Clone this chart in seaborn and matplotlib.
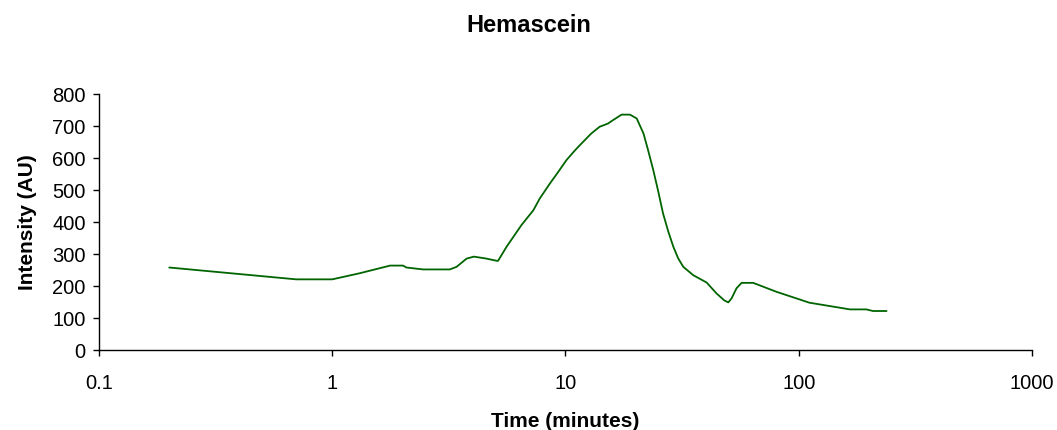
import pandas as pd
import matplotlib.pyplot as plt
import matplotlib.ticker as mticker
import seaborn as sns

# values
time_min = [0.20, 0.70, 1.00, 1.31, 1.77, 2.01, 2.08, 2.45, 3.19, 3.41, 3.77,
            4.05, 4.57, 5.07, 5.14, 5.59, 6.48, 7.28, 7.76, 8.58, 9.31, 10.1,
            11.0, 11.9, 12.9, 14.0, 15.2, 16.0, 17.4, 18.9, 20.2, 21.6, 22.6,
            23.8, 25.0, 26.2, 27.6, 29.0, 30.4, 32.0, 35.3, 40.3, 44.4, 48.0,
            49.9, 51.5, 54.1, 56.9, 63.8, 80.3, 101, 111, 166, 195, 208, 238]
intensity = [258, 221, 221, 240, 264, 264, 258, 252, 252, 260, 286,
             292, 286, 279, 279, 323, 391, 437, 474, 521, 557, 594,
             625, 651, 677, 698, 708, 719, 736, 736, 724, 677, 625,
             562, 495, 427, 370, 323, 287, 260, 234, 211, 177, 155,
             149, 161, 193, 210, 210, 182, 158, 148, 127, 127, 122, 122]
x_ticks = [0.1, 1, 10, 100, 1000]
y_ticks = list(range(0, 801, 100))

df = pd.DataFrame({"Time": time_min, "Intensity": intensity})

sns.set_style("ticks")
plt.rcParams['font.family'] = ['Liberation Sans', 'DejaVu Sans']
plt.rcParams['text.color'] = 'black'
plt.rcParams['axes.labelcolor'] = 'black'

fig = plt.figure(figsize=(10.57, 4.30), dpi=100)
ax = fig.add_axes([0.0937, 0.186, 0.8826, 0.595])

sns.lineplot(data=df, x="Time", y="Intensity", ax=ax, color="#006400",
             linewidth=1.3, sort=False)

ax.set_xscale("log")
ax.set_xlim(0.1, 1000)
ax.set_ylim(0, 800)
ax.set_xticks(x_ticks)
ax.xaxis.set_major_formatter(mticker.FuncFormatter(lambda v, p: f"{v:g}"))
ax.xaxis.set_minor_locator(mticker.NullLocator())
ax.set_yticks(y_ticks)

ax.tick_params(axis="both", direction="out", length=4.5, width=1,
               colors="black", labelsize=14.5)
ax.tick_params(axis="x", pad=13)
ax.tick_params(axis="y", pad=5)
for s in ["left", "bottom"]:
    ax.spines[s].set_color("black")
    ax.spines[s].set_linewidth(1)
sns.despine(ax=ax)

ax.set_xlabel("Time (minutes)", fontsize=15, fontweight="bold", color="black")
ax.set_ylabel("Intensity (AU)", fontsize=15, fontweight="bold", color="black")
ax.xaxis.set_label_coords(0.5, -0.242)
ax.yaxis.set_label_coords(-0.0665, 0.5)
fig.text(0.5, 1 - 32 / 430, "Hemascein", fontsize=17, fontweight="bold",
         ha="center", va="baseline", color="black")

fig.savefig("out.png", dpi=100)
